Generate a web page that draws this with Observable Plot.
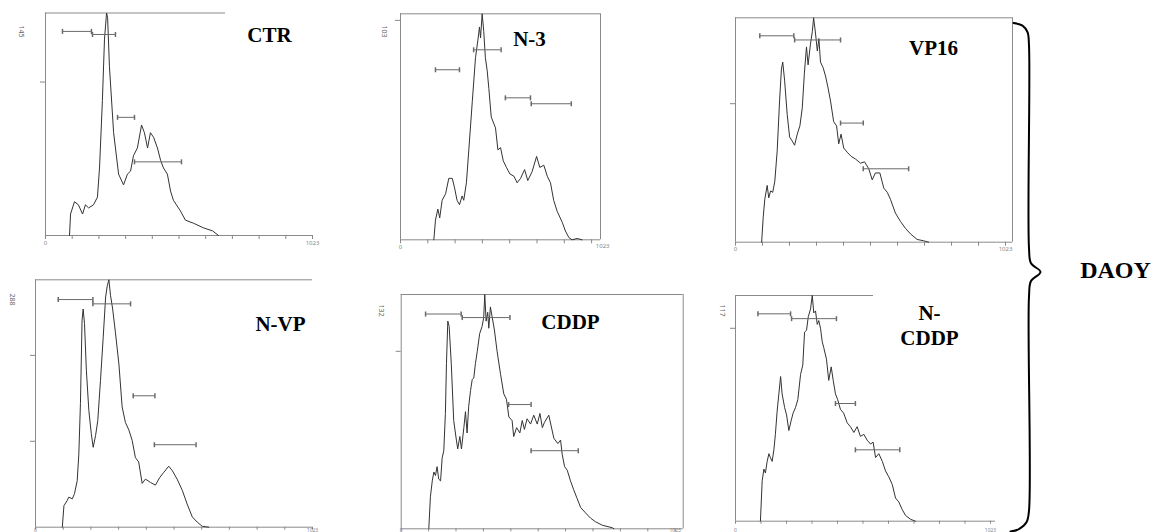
<!DOCTYPE html>
<html><head><meta charset="utf-8">
<script src="https://cdn.jsdelivr.net/npm/d3@7"></script>
<script src="https://cdn.jsdelivr.net/npm/@observablehq/plot@0.6"></script>
<style>
body{margin:0;background:#fff;}
#chart{position:relative;width:1163px;height:532px;overflow:hidden;background:#fff;}
#chart svg{position:absolute;left:0;top:0;}
</style></head><body><div id="chart"></div>
<script>
// ---------- data ----------
const panelNames = ["CTR", "N-3", "VP16", "N-VP", "CDDP", "N-\nCDDP"];
const yMaxValues = [145, 103, 162, 288, 132, 117];
const yMaxLabels = ["145", "103", "", "288", "132", "117"];
const yTickValues = [[100], [100], [100], [100, 200], [100], [100]];
const xTicks = [0, 102.3, 204.6, 306.9, 409.2, 511.5, 613.8, 716.1, 818.4, 920.7, 1023];
const xTickLabels = ["0", "1023"];
const groupLabel = "DAOY";

const ctrChannel = [92,96,111,126,142,153,165,184,199,207,218,226,234,238,245,261,280,299,314,326,337,352,368,379,391,402,414,429,441,452,467,479,490,517,536,567,605,640,663];
const ctrCount   = [0,14,22,20,14,20,18,20,25,44,88,128,145,142,110,67,40,33,40,42,52,57,72,67,57,67,64,57,49,44,40,29,23,16,10,8,5,3,0];
const ctrGateStart = [65,180,276,341], ctrGateEnd = [176,268,341,521], ctrGateCount = [133,131,77,48];

const n3Channel = [125,131,140,147,156,169,181,194,202,212,221,231,237,247,256,269,281,290,296,300,306,312,318,325,331,340,356,365,375,385,397,410,425,437,450,465,477,493,510,522,537,550,562,574,587,606,618,631,643,662,680];
const n3Count   = [0,9,14,10,18,21,28,28,24,18,16,20,18,26,41,63,83,91,97,92,103,95,83,77,69,56,51,41,42,36,33,30,29,26,28,32,27,31,38,33,34,29,26,18,13,8,4,1,0,0.6,0];
const n3GateStart = [131,274,393,490], n3GateEnd = [221,377,487,640], n3GateCount = [77.5,86.6,64.7,62];

const vp16Channel = [99,105,111,120,126,133,141,149,158,167,174,179,186,196,205,215,224,234,244,253,261,269,275,284,291,296,303,310,316,322,332,341,350,360,372,383,391,400,410,423,438,455,474,489,505,518,530,547,562,575,587,606,625,644,663,688,713,732];
const vp16Count   = [0,18,31,41,32,37,36,44,66,102,125,130,117,92,76,73,70,78,84,97,122,141,128,143,152,162,151,138,147,130,126,120,112,102,87,84,71,78,68,65,62,60,57,58,53,45,50,50,39,36,31,21,15,10,6,2,1,0];
const vp16GateStart = [92,224,398,484], vp16GateEnd = [221,398,484,656], vp16GateCount = [149,146,86,53];

const nvpChannel = [99,105,117,123,136,144,154,160,166,172,176,181,188,197,206,213,222,230,240,250,259,265,271,277,285,295,308,320,332,345,357,369,381,394,406,425,443,459,474,492,505,523,542,560,579,597,616,640];
const nvpCount   = [0,25,31,35,33,39,54,85,144,241,254,237,182,136,109,93,107,124,171,221,268,281,288,270,254,227,190,140,122,113,101,81,76,51,56,52,49,58,64,71,66,56,43,27,12,6,1,0];
const nvpGateStart = [84,212,361,439], nvpGateEnd = [212,351,441,593], nvpGateCount = [265,260,153,96];

const cddpChannel = [103,109,116,122,128,134,140,147,153,159,165,169,174,179,187,196,206,211,219,225,234,240,246,252,259,265,271,277,284,293,302,308,312,317,323,327,333,340,348,358,371,383,393,402,414,420,431,443,452,460,470,483,495,508,518,527,535,551,570,585,595,601,610,620,632,644,657,670,688,707,725,751,788,794];
const cddpCount   = [0,18,27,32,30,35,28,27,40,44,65,93,117,114,93,61,50,45,52,45,57,66,54,69,78,84,85,93,100,110,114,119,132,117,122,113,125,119,112,100,87,76,73,63,61,52,57,54,61,56,62,59,64,59,65,57,60,64,51,48,50,42,35,33,27,22,17,12,9,6,4,2,0.6,0];
const cddpGateStart = [91,228,401,485], cddpGateEnd = [224,406,485,661], cddpGateCount = [121,119,70,44];

const ncddpChannel = [100,107,114,120,127,134,140,147,154,160,167,174,181,187,197,205,214,223,231,241,250,261,270,277,285,292,301,308,314,321,328,334,341,348,354,365,374,384,392,401,410,421,434,448,461,475,488,501,515,528,542,552,562,575,589,602,615,629,642,655,669,682,702,722];
const ncddpCount   = [0,21,27,25,31,35,33,31,37,45,57,66,75,66,59,55,47,52,56,59,63,76,81,98,99,106,110,117,108,109,102,104,100,93,90,84,73,80,73,66,63,58,56,51,49,46,49,44,45,42,40,41,33,35,31,26,23,19,12,10,6,3,1,0];
const ncddpGateStart = [90,225,401,481], ncddpGateEnd = [221,405,481,659], ncddpGateCount = [107.5,105,61,37];

const panelChannels = [ctrChannel, n3Channel, vp16Channel, nvpChannel, cddpChannel, ncddpChannel];
const panelCounts = [ctrCount, n3Count, vp16Count, nvpCount, cddpCount, ncddpCount];
const panelGateStarts = [ctrGateStart, n3GateStart, vp16GateStart, nvpGateStart, cddpGateStart, ncddpGateStart];
const panelGateEnds = [ctrGateEnd, n3GateEnd, vp16GateEnd, nvpGateEnd, cddpGateEnd, ncddpGateEnd];
const panelGateCounts = [ctrGateCount, n3GateCount, vp16GateCount, nvpGateCount, cddpGateCount, ncddpGateCount];

// brace shape, normalised (x: 0..1 across brace width, y: 0..1 down the two rows)
const braceX = [0, 0.333, 0.519, 0.574, 0.574, 0.648, 1, 0.648, 0.574, 0.574, 0.481, 0.185, -0.111];
const braceY = [0.001, 0.006, 0.019, 0.045, 0.443, 0.473, 0.49, 0.508, 0.538, 0.959, 0.982, 0.996, 1];

// ---------- layout (pixels) ----------
const layouts = [
  {x0:45,    x1023:312,   top:12.5,  bottom:235,   right:312,   topEnd:225,   rightBorder:false, lab:[269,33],  ylab:[21,31],   extra1023:false, lowRow:false},
  {x0:400,   x1023:673,   top:13.3,  bottom:239.3, right:600,   topEnd:600,   rightBorder:true,  lab:[529,37],  ylab:[384,31],  extra1023:true,  lowRow:false},
  {x0:735,   x1023:1005,  top:17.3,  bottom:241.7, right:1012,  topEnd:1012,  rightBorder:true,  lab:[933,46],  ylab:[722,30],  extra1023:false, lowRow:false},
  {x0:35,    x1023:312,   top:279.3, bottom:526.7, right:312,   topEnd:312,   rightBorder:false, lab:[280,322], ylab:[12,299],  extra1023:false, lowRow:true},
  {x0:400.7, x1023:674.7, top:294,   bottom:528.3, right:682.7, topEnd:682.7, rightBorder:true,  lab:[570,320], ylab:[381,310], extra1023:false, lowRow:true},
  {x0:735,   x1023:990,   top:295,   bottom:520.7, right:995,   topEnd:873,   rightBorder:false, lab:[929,324], ylab:[722,310], extra1023:false, lowRow:true}
];
const W = 1163, H = 532;
const frameColor = "#8a8a8a", gateColor = "#6a6a6a", histColor = "#333";
const vline = {draw(ctx, size) { const h = Math.sqrt(size / Math.PI); ctx.moveTo(0, -h); ctx.lineTo(0, h); }};

const chart = document.getElementById("chart");

panelNames.forEach((name, p) => {
  const L = layouts[p];
  const ymax = yMaxValues[p];
  const toCh = px => (px - L.x0) * 1023 / (L.x1023 - L.x0);
  const rightCh = toCh(L.right);
  const hist = panelChannels[p].map((c, i) => ({channel: c, count: panelCounts[p][i]}));
  const gates = panelGateStarts[p].map((s, i) => ({start: s, end: panelGateEnds[p][i], count: panelGateCounts[p][i]}));
  const gateEnds = gates.flatMap(g => [{x: g.start, y: g.count}, {x: g.end, y: g.count}]);
  const ticks = xTicks.filter(t => t <= rightCh + 0.5);
  const endTicks = [ticks[0], ticks[ticks.length - 1]].filter(t => t === 0 || Math.abs(t - 1023) < 0.5);
  const tickLabel = t => t === 0 ? xTickLabels[0] : xTickLabels[1];
  const marks = [
    Plot.ruleX([0], {stroke: frameColor}),
    Plot.ruleY([0], {stroke: frameColor}),
    Plot.ruleY([ymax], {x1: 0, x2: toCh(L.topEnd), stroke: frameColor}),
    Plot.axisY(yTickValues[p], {anchor: "left", tickSize: 5, color: "#888", label: null, tickFormat: () => ""}),
    Plot.line(hist, {x: "channel", y: "count", stroke: histColor, strokeWidth: 1}),
    Plot.ruleY(gates, {y: "count", x1: "start", x2: "end", stroke: gateColor}),
    Plot.dot(gateEnds, {x: "x", y: "y", symbol: vline, r: 2.5, stroke: gateColor, fill: "none"}),
    Plot.text([name], {text: d => d, frameAnchor: "top-left", dx: L.lab[0] - L.x0, dy: L.lab[1] - L.top,
      fontSize: 21, fontWeight: "bold", fontFamily: "Liberation Serif", fill: "#000",
      textAnchor: "middle", lineAnchor: "middle", lineHeight: 1.2})
  ];
  if (L.lowRow) {
    marks.push(Plot.axisX(ticks, {anchor: "bottom", tickSize: 3, color: "#888", label: null, tickFormat: () => ""}));
    marks.push(Plot.text(endTicks, {x: d => d, text: tickLabel, frameAnchor: "bottom", dy: 531 - L.bottom,
      fontSize: 5, fill: "#888", textAnchor: "middle", lineAnchor: "bottom"}));
  } else {
    marks.push(Plot.axisX(ticks, {anchor: "bottom", tickSize: 4, tickPadding: 1, fontSize: 6, color: "#888", label: null,
      tickFormat: t => t === 0 ? xTickLabels[0] : (Math.abs(t - 1023) < 0.5 ? xTickLabels[1] : "")}));
  }
  if (L.rightBorder) marks.push(Plot.ruleX([rightCh], {stroke: frameColor}));
  if (yMaxLabels[p]) marks.push(Plot.text([yMaxLabels[p]], {text: d => d, frameAnchor: "top-left",
      dx: L.ylab[0] - L.x0, dy: L.ylab[1] - L.top, rotate: 90, fontSize: 7, fill: "#666",
      textAnchor: "middle", lineAnchor: "middle"}));
  if (L.extra1023) marks.push(Plot.text([xTickLabels[1]], {text: d => d, frameAnchor: "bottom-right", dx: 9, dy: 8,
      fontSize: 6, fill: "#888", textAnchor: "end", lineAnchor: "bottom"}));
  const svg = Plot.plot({
    width: W, height: H,
    marginLeft: L.x0, marginTop: L.top, marginRight: W - L.right, marginBottom: H - L.bottom,
    x: {domain: [0, 1023], range: [L.x0, L.x1023]},
    y: {domain: [0, ymax], range: [L.bottom, L.top]},
    style: {background: "transparent", overflow: "visible"},
    marks
  });
  chart.appendChild(svg);
});

// brace and group label
const brace = braceX.map((x, i) => ({x, y: braceY[i]}));
chart.appendChild(Plot.plot({
  width: W, height: H, margin: 0,
  x: {domain: [0, 1], range: [1013, 1040], axis: null},
  y: {domain: [0, 1], range: [22, 531], axis: null},
  style: {background: "transparent", overflow: "visible"},
  marks: [
    Plot.line(brace, {x: "x", y: "y", curve: "catmull-rom", stroke: "#000", strokeWidth: 2}),
    Plot.text([groupLabel], {text: d => d, frameAnchor: "top-left", dx: 1115, dy: 270, fontSize: 24,
      fontWeight: "bold", fontFamily: "Liberation Serif", fill: "#000", textAnchor: "middle", lineAnchor: "middle"})
  ]
}));
</script></body></html>
